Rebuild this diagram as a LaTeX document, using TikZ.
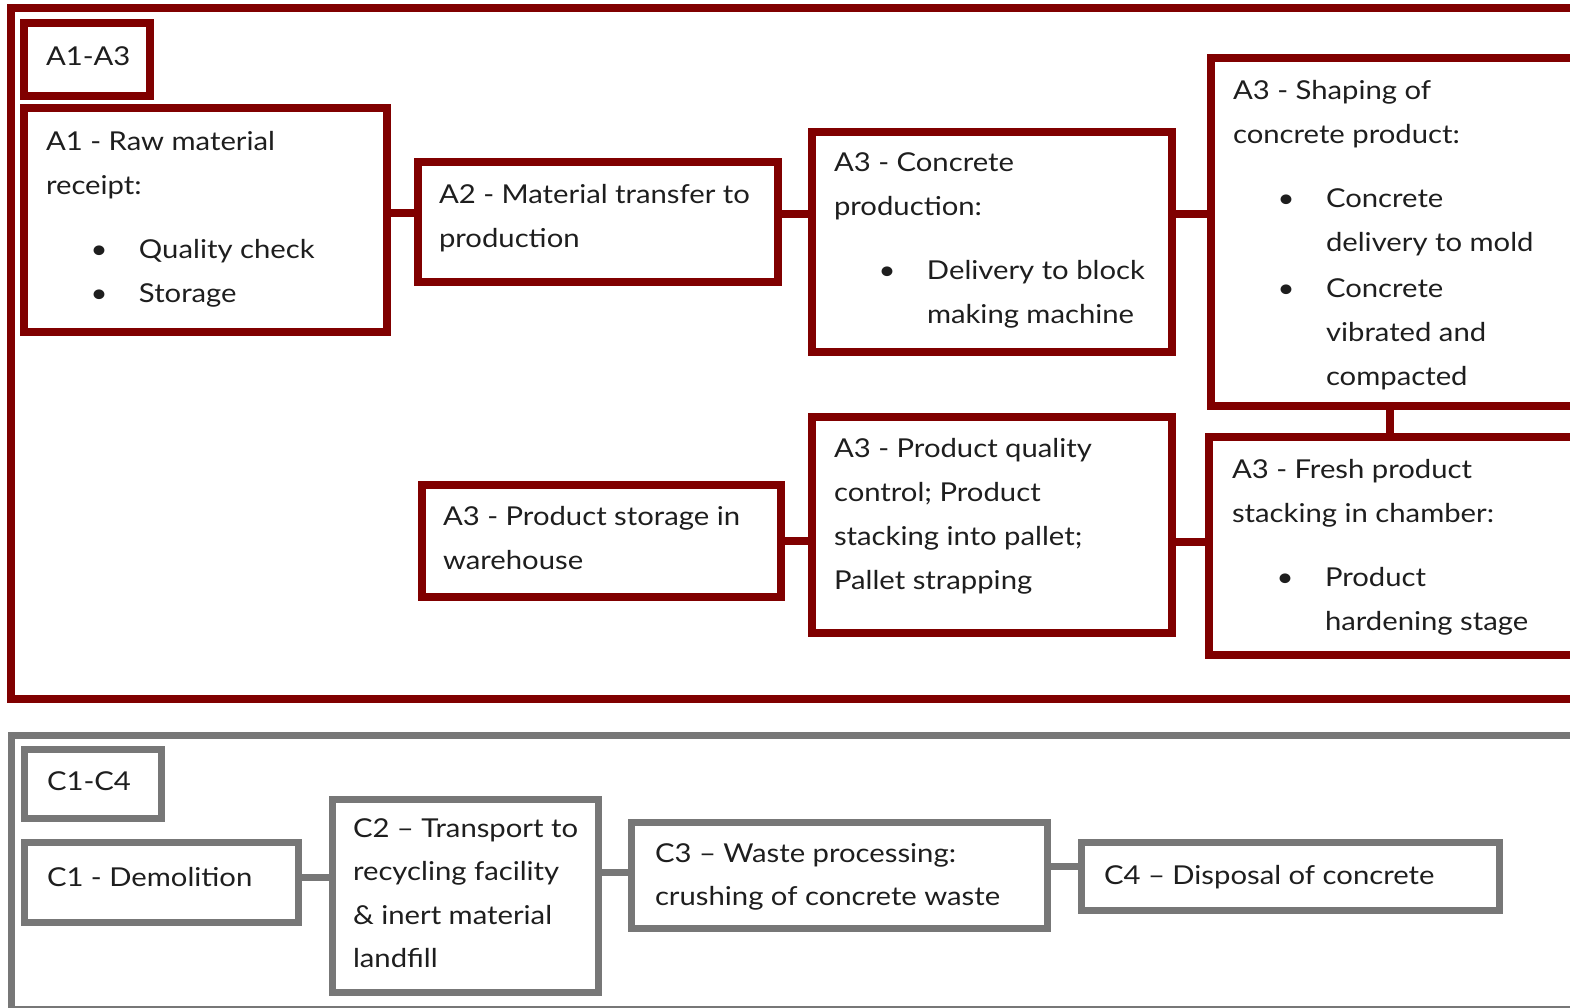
\documentclass[tikz,border=0pt]{standalone}
\usepackage{fontspec}
\setmainfont{Lato}[FakeStretch=1.125]
\usetikzlibrary{calc}
\definecolor{maroonA}{HTML}{800000}
\definecolor{greyC}{HTML}{777777}
\definecolor{inkT}{HTML}{1E1E1E}
\newcommand\mylines[1]{\vtop{\baselineskip=44pt\lineskiplimit=-100pt\lineskip=0pt #1}}
\newcommand\mylinesC[1]{\vtop{\baselineskip=43.5pt\lineskiplimit=-100pt\lineskip=0pt #1}}
\newcommand\tline[1]{\hbox{#1}}
\newcommand\bitem[1]{\hbox{\kern53pt\makebox[0pt]{\textbullet}\kern40pt #1}}
\newcommand\bcont[1]{\hbox{\kern93pt #1}}
\tikzset{
  boxA/.style={draw=maroonA, line width=8pt, rectangle, inner sep=0pt, outer sep=0pt, anchor=north west, fill=none},
  boxC/.style={draw=greyC, line width=7pt, rectangle, inner sep=0pt, outer sep=0pt, anchor=north west, fill=none},
  linkA/.style={draw=maroonA, line width=8pt},
  linkC/.style={draw=greyC, line width=7pt},
  txt/.style={anchor=base west, inner sep=0pt, outer sep=0pt, text=inkT, font=\fontsize{26}{44}\selectfont},
  txtC/.style={txt},
}
\begin{document}
\begin{tikzpicture}[x=1pt,y=-1pt]
\useasboundingbox (0,0) rectangle (1570,1007);
\clip (0,0) rectangle (1570,1007);
\fill[white] (0,0) rectangle (1570,1007);
% sections
\node[boxA, minimum width=1600pt, minimum height=691pt] (secA) at (11,8) {};
\node[boxC, minimum width=1600pt, minimum height=274pt] (secC) at (11,735) {};
% A boxes
\node[boxA, minimum width=125.5pt, minimum height=73pt] (lblA) at (24,23) {};
\node[boxA, minimum width=363pt, minimum height=224pt] (a1) at (24,108) {};
\node[boxA, minimum width=360pt, minimum height=120pt] (a2) at (418,162) {};
\node[boxA, minimum width=360pt, minimum height=220pt] (cp) at (812,132) {};
\node[boxA, minimum width=369pt, minimum height=348pt] (shp) at (1211,58) {};
\node[boxA, minimum width=371pt, minimum height=218pt] (fr) at (1209,437) {};
\node[boxA, minimum width=360pt, minimum height=216pt] (qc) at (812,417) {};
\node[boxA, minimum width=359pt, minimum height=112pt] (st) at (422,485) {};
% C boxes
\node[boxC, minimum width=137pt, minimum height=69pt] (lblC) at (24,749) {};
\node[boxC, minimum width=274pt, minimum height=80pt] (c1) at (24,842) {};
\node[boxC, minimum width=266pt, minimum height=193pt] (c2) at (332,799) {};
\node[boxC, minimum width=416pt, minimum height=106pt] (c3) at (631,822) {};
\node[boxC, minimum width=418pt, minimum height=68pt] (c4) at (1081,842) {};
% links A
\draw[linkA] (a1.east |- 0,213) -- (a2.west |- 0,213);
\draw[linkA] (a2.east |- 0,214) -- (cp.west |- 0,214);
\draw[linkA] (cp.east |- 0,214) -- (shp.west |- 0,214);
\draw[linkA] (shp.south -| 1390,0) -- (fr.north -| 1390,0);
\draw[linkA] (qc.east |- 0,542) -- (fr.west |- 0,542);
\draw[linkA] (st.east |- 0,541) -- (qc.west |- 0,541);
% links C
\draw[linkC] (c1.east |- 0,877) -- (c2.west |- 0,877);
\draw[linkC] (c2.east |- 0,872) -- (c3.west |- 0,872);
\draw[linkC] (c3.east |- 0,866) -- (c4.west |- 0,866);
% texts A
\node[txt] (tlblA) at (46,65) {A1-A3};
\node[txt] (ta1) at (46,150) {\mylines{\tline{A1 - Raw material}\tline{receipt:}\vskip20pt\bitem{Quality check}\bitem{Storage}}};
\node[txt] (ta2) at (439,203) {\mylines{\tline{A2 - Material transfer to}\tline{production}}};
\node[txt] (tcp) at (834,171) {\mylines{\tline{A3 - Concrete}\tline{production:}\vskip20pt\bitem{Delivery to block}\bcont{making machine}}};
\node[txt] (tshp) at (1233,99) {\mylines{\tline{A3 - Shaping of}\tline{concrete product:}\vskip20pt\bitem{Concrete}\bcont{delivery to mold}\vskip2pt\bitem{Concrete}\bcont{vibrated and}\bcont{compacted}}};
\node[txt] (tfr) at (1232,478) {\mylines{\tline{A3 - Fresh product}\tline{stacking in chamber:}\vskip20pt\bitem{Product}\bcont{hardening stage}}};
\node[txt] (tqc) at (834,457) {\mylines{\tline{A3 - Product quality}\tline{control; Product}\tline{stacking into pallet;}\tline{Pallet strapping}}};
\node[txt] (tst) at (443,525) {\mylines{\tline{A3 - Product storage in}\tline{warehouse}}};
% texts C
\node[txt] (tlblC) at (47,790) {C1-C4};
\node[txt] (tc1) at (47,886) {C1 - Demolition};
\node[txtC] (tc2) at (353,837) {\mylinesC{\tline{C2 – Transport to}\tline{recycling facility}\tline{\& inert material}\tline{landfill}}};
\node[txtC] (tc3) at (655,862) {\mylinesC{\tline{C3 – Waste processing:}\tline{crushing of concrete waste}}};
\node[txtC] (tc4) at (1104,884) {C4 – Disposal of concrete};
\end{tikzpicture}
\end{document}
